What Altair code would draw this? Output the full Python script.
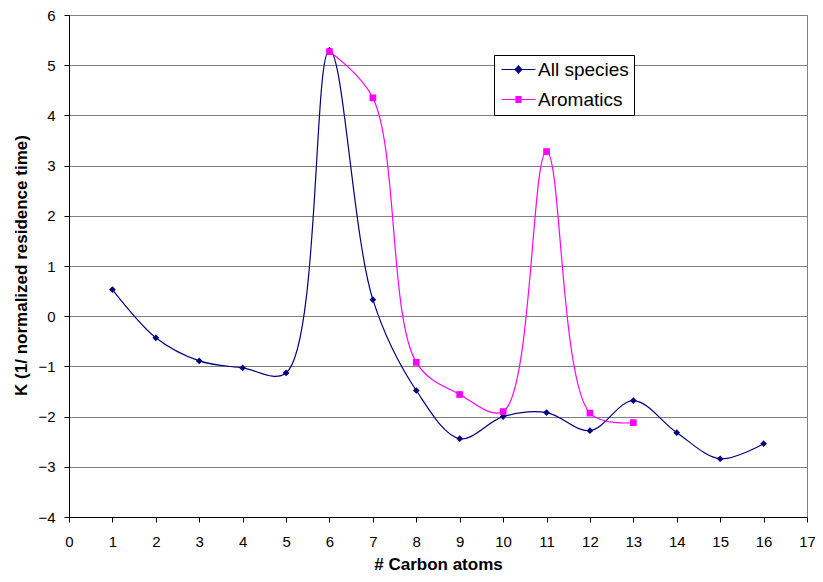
import altair as alt
import pandas as pd

# Data
carbon_all = [1, 2, 3, 4, 5, 6, 7, 8, 9, 10, 11, 12, 13, 14, 15, 16]
k_all = [0.53, -0.43, -0.89, -1.03, -1.13, 5.30, 0.33, -1.48, -2.44, -2.00,
         -1.92, -2.28, -1.68, -2.32, -2.84, -2.54]

carbon_aro = [6, 7, 8, 9, 10, 11, 12, 13]
k_aro = [5.27, 4.35, -0.92, -1.56, -1.90, 3.28, -1.93, -2.12]

series_names = ["All species", "Aromatics"]
series_colors = ["#000080", "#FF00FF"]
series_shapes = ["diamond", "square"]

df = pd.concat([
    pd.DataFrame({"series": series_names[0], "carbon": carbon_all, "k": k_all}),
    pd.DataFrame({"series": series_names[1], "carbon": carbon_aro, "k": k_aro}),
], ignore_index=True)

FONT = "Liberation Sans"

x_enc = alt.X("carbon:Q",
              scale=alt.Scale(domain=[0, 17], nice=False, zero=False),
              axis=alt.Axis(values=list(range(0, 18)), grid=False, title="# Carbon atoms",
                            labelFontSize=15, labelPadding=12, titleFontSize=17,
                            titleFontWeight="bold", titleY=39, tickSize=5,
                            labelFlush=False))
y_enc = alt.Y("k:Q",
              scale=alt.Scale(domain=[-4, 6], nice=False),
              axis=alt.Axis(values=list(range(-4, 7)), grid=True,
                            title="K (1/ normalized residence  time)",
                            labelFontSize=15, labelPadding=9, titleFontSize=17,
                            titleFontWeight="bold", titleX=-39, titleY=250,
                            tickSize=5, labelFlush=False))

color_scale = alt.Scale(domain=series_names, range=series_colors)


# legend glyphs (unit = 5 px): a line with a marker drawn from short strokes
def rows(half_w_fn, n, step=0.2):
    out = ""
    for i in range(-n, n + 1):
        y = i * step
        h = half_w_fn(y)
        out += f"M{-h:.2f},{y:.2f}L{h:.2f},{y:.2f}"
    return out


path_all = "M-3.4,0L3.4,0" + rows(lambda y: max(0.85 - abs(y), 0.08), 4)
path_aro = "M-3.4,0L3.4,0" + rows(lambda y: 0.62, 3)

legend = alt.Legend(
    title=None, orient="none", legendX=425, legendY=40,
    labelFontSize=19, labelFont=FONT, labelColor="black",
    symbolSize=100, symbolOffset=10, labelOffset=10,
    rowPadding=10, padding=5,
    strokeColor="black", fillColor="white",
    symbolStrokeWidth=1.2,
    symbolType=alt.ExprRef(expr=f"datum.value == 'All species' ? '{path_all}' : '{path_aro}'"),
)

lines = alt.Chart(df).mark_line(interpolate="catmull-rom", strokeWidth=1.2).encode(
    x=x_enc, y=y_enc,
    color=alt.Color("series:N", scale=color_scale, legend=legend),
)

point_layers = [
    alt.Chart(df).transform_filter(alt.datum.series == name)
    .mark_point(filled=True, size=45, opacity=1, shape=shape).encode(
        x=x_enc, y=y_enc,
        color=alt.Color("series:N", scale=color_scale, legend=None),
    )
    for name, shape in zip(series_names, series_shapes)
]

chart = alt.layer(lines, *point_layers).properties(
    width=738, height=502,
    background="white",
    autosize=alt.AutoSizeParams(type="none"),
    padding={"left": 61, "top": 7, "right": 8, "bottom": 57},
).configure_view(
    stroke="#808080", strokeWidth=1
).configure_axis(
    domainColor="black", tickColor="black", gridColor="#808080",
    labelColor="black", titleColor="black", labelFont=FONT, titleFont=FONT,
    domainWidth=1, gridWidth=1,
)

chart.save("out.html", embed_options={"renderer": "svg", "actions": False})
